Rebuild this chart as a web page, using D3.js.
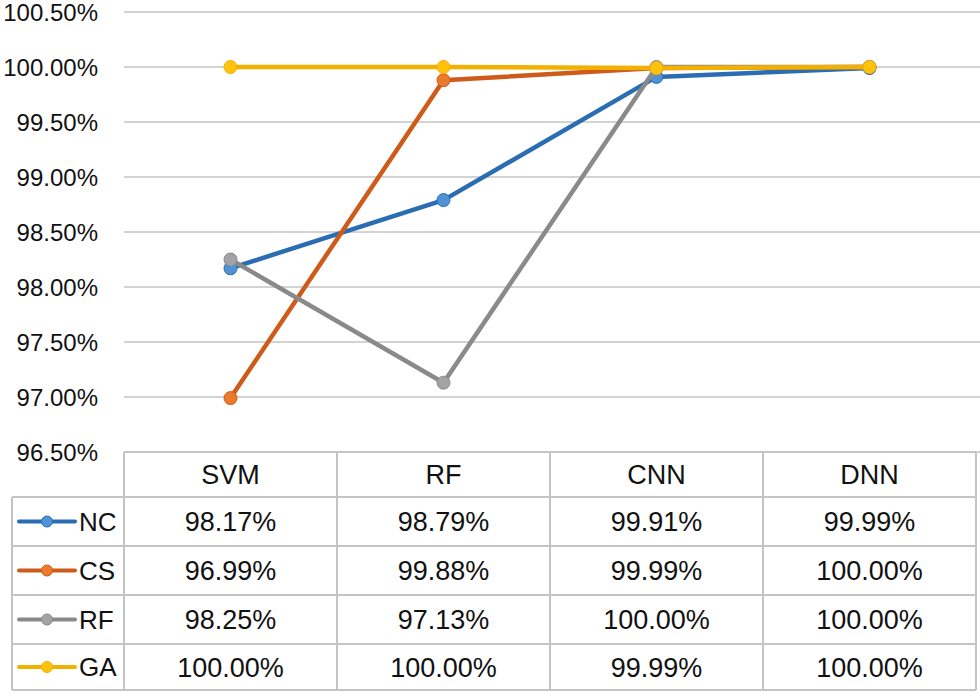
<!DOCTYPE html>
<html><head><meta charset="utf-8">
<script src="https://cdn.jsdelivr.net/npm/d3@7"></script>
<style>html,body{margin:0;padding:0;background:#fff;}svg{display:block;}</style>
</head><body>
<svg id="chart" width="980" height="697"></svg>
<script>
const categories = ["SVM", "RF", "CNN", "DNN"];
const seriesNames = ["NC", "CS", "RF", "GA"];
const NC = [98.17, 98.79, 99.91, 99.99];
const CS = [96.99, 99.88, 99.99, 100.00];
const RF = [98.25, 97.13, 100.00, 100.00];
const GA = [100.00, 100.00, 99.99, 100.00];
const yTicks = [96.5, 97.0, 97.5, 98.0, 98.5, 99.0, 99.5, 100.0, 100.5];
const lineColors = ["#2a6db3", "#cf5b1a", "#8a8a8a", "#f2b100"];
const markerColors = ["#4f93d6", "#ec7a2c", "#a3a3a3", "#ffc20e"];

(function () {
const seriesData = [NC, CS, RF, GA];
const svg = d3.select("#chart");
const font = "'Liberation Sans', Arial, sans-serif";

const plotLeft = 124, plotRight = 976, plotTop = 12, plotBottom = 452;
const x = d3.scaleBand().domain(categories).range([plotLeft, plotRight]);
const y = d3.scaleLinear().domain([96.5, 100.5]).range([plotBottom, plotTop]);

svg.append("g").selectAll("line").data(yTicks).join("line")
  .attr("x1", plotLeft).attr("x2", 980)
  .attr("y1", d => y(d)).attr("y2", d => y(d))
  .attr("stroke", "#c4c4c4").attr("stroke-width", 1.6);

svg.append("g").selectAll("text").data(yTicks).join("text")
  .attr("x", 98).attr("y", d => y(d) + 1).attr("dy", "0.35em")
  .attr("text-anchor", "end").attr("font-family", font).attr("font-size", 24)
  .attr("fill", "#111").text(d => d.toFixed(2) + "%");

const rowTop = 452, headerBottom = 497;
const rowH = 49;
const tableLeft = 12;
const tg = svg.append("g");
const gridStroke = "#c4c4c4";
const fs = 27;
tg.append("line").attr("x1", plotLeft).attr("x2", plotRight).attr("y1", rowTop).attr("y2", rowTop).attr("stroke", gridStroke).attr("stroke-width", 2);
const rowYs = seriesNames.map((d, i) => headerBottom + i * rowH);
const tableBottom = headerBottom + seriesNames.length * rowH - 3;
[headerBottom, ...rowYs.slice(1), tableBottom].forEach(yy => {
  tg.append("line").attr("x1", tableLeft).attr("x2", plotRight).attr("y1", yy).attr("y2", yy).attr("stroke", gridStroke).attr("stroke-width", 2);
});
categories.forEach(c => {
  tg.append("line").attr("x1", x(c)).attr("x2", x(c)).attr("y1", rowTop).attr("y2", tableBottom).attr("stroke", gridStroke).attr("stroke-width", 2);
});
tg.append("line").attr("x1", plotRight).attr("x2", plotRight).attr("y1", rowTop).attr("y2", tableBottom).attr("stroke", gridStroke).attr("stroke-width", 2);
tg.append("line").attr("x1", tableLeft).attr("x2", tableLeft).attr("y1", headerBottom).attr("y2", tableBottom).attr("stroke", gridStroke).attr("stroke-width", 2);

tg.selectAll("text.hdr").data(categories).join("text").attr("class", "hdr")
  .attr("x", d => x(d) + x.bandwidth() / 2).attr("y", (rowTop + headerBottom) / 2).attr("dy", "0.36em")
  .attr("text-anchor", "middle").attr("font-family", font).attr("font-size", fs).attr("fill", "#111").text(d => d);

seriesNames.forEach((name, i) => {
  const yTop = headerBottom + i * rowH;
  const yBot = i === seriesNames.length - 1 ? tableBottom : yTop + rowH;
  const cy = (yTop + yBot) / 2;
  tg.append("line").attr("x1", 19).attr("x2", 75).attr("y1", cy).attr("y2", cy)
    .attr("stroke", lineColors[i]).attr("stroke-width", 4).attr("stroke-linecap", "round");
  tg.append("circle").attr("cx", 47).attr("cy", cy).attr("r", 5.5)
    .attr("fill", markerColors[i]).attr("stroke", lineColors[i]).attr("stroke-width", 1);
  tg.append("text").attr("x", 79).attr("y", cy).attr("dy", "0.36em")
    .attr("font-family", font).attr("font-size", fs - 1).attr("fill", "#111").text(name);
  categories.forEach((c, j) => {
    tg.append("text").attr("x", x(c) + x.bandwidth() / 2).attr("y", cy).attr("dy", "0.36em")
      .attr("text-anchor", "middle").attr("font-family", font).attr("font-size", fs).attr("fill", "#111")
      .text(seriesData[i][j].toFixed(2) + "%");
  });
});

const line = d3.line().x((d, j) => x(categories[j]) + x.bandwidth() / 2).y(d => y(d));
seriesData.forEach((vals, i) => {
  const g = svg.append("g");
  g.append("path").datum(vals).attr("d", line).attr("fill", "none")
    .attr("stroke", lineColors[i]).attr("stroke-width", 4.5).attr("stroke-linejoin", "round");
  g.selectAll("circle").data(vals).join("circle")
    .attr("cx", (d, j) => x(categories[j]) + x.bandwidth() / 2).attr("cy", d => y(d)).attr("r", 6.5)
    .attr("fill", markerColors[i]).attr("stroke", lineColors[i]).attr("stroke-width", 1);
});
})();
</script>
</body></html>
